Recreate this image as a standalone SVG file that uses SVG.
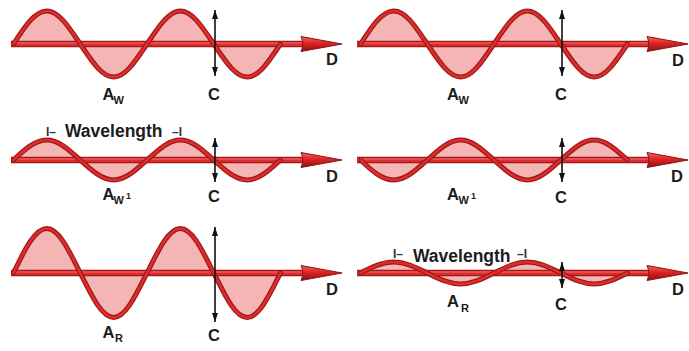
<svg xmlns="http://www.w3.org/2000/svg" width="689" height="351" viewBox="0 0 689 351">
<style>
.fl{fill:#f5b5b5;stroke:none}
.wo{fill:none;stroke:#9e1a1a;stroke-width:5;stroke-linecap:round;stroke-linejoin:round}
.wi{fill:none;stroke:#de2c2c;stroke-width:2.6;stroke-linecap:round;stroke-linejoin:round}
.bo{fill:none;stroke:#9e1a1a;stroke-width:6.5}
.bi{fill:none;stroke:#de2c2c;stroke-width:4}
.bh{fill:none;stroke:#f06a6a;stroke-width:1}
.head{fill:url(#hg);stroke:#8e1212;stroke-width:1;stroke-linejoin:round}
.va{stroke:#111;stroke-width:1.6;fill:none;marker-start:url(#ah);marker-end:url(#ah)}
.lbl{font-family:"Liberation Sans",Arial,sans-serif;font-weight:bold;font-size:16.5px;fill:#1c1c1c}
.sub{font-size:11px}
.sup{font-size:9px}
.wl{font-size:17.5px}
.tick{font-family:"Liberation Sans",Arial,sans-serif;font-weight:bold;font-size:12px;fill:#333}
</style>
<defs>
<linearGradient id="hg" x1="0" y1="0" x2="0" y2="1">
<stop offset="0" stop-color="#f46262"/>
<stop offset="0.45" stop-color="#dc2424"/>
<stop offset="1" stop-color="#8e1010"/>
</linearGradient>
<marker id="ah" viewBox="0 0 9 6" refX="9" refY="3" markerWidth="9" markerHeight="6" markerUnits="userSpaceOnUse" orient="auto-start-reverse">
<path d="M0,0 L9,3 L0,6 Z" fill="#111"/>
</marker>
<g id="ax">
<path class="bo" d="M11,0 H304"/>
<path class="bi" d="M11,0 H304"/>
<path class="bh" d="M12,-1 H303"/>
<path class="head" d="M301,-7.5 L342,0 L301,7.5 Q304.5,0 301,-7.5 Z"/>
</g>
<path id="w1" d="M13.5,44 c10.884,-16.91 21.297,-33 33.375,-33 s22.491,16.91 33.375,33 s21.297,33 33.375,33 s22.491,-16.91 33.375,-33 s21.297,-33 33.375,-33 s22.491,16.910 33.375,33 s21.297,33 33.375,33 s22.491,-16.91 33.375,-33"/>
<path id="w2" d="M13.5,160 c10.884,-10.25 21.297,-20 33.375,-20 s22.491,10.25 33.375,20 s21.297,20 33.375,20 s22.491,-10.25 33.375,-20 s21.297,-20 33.375,-20 s22.491,10.25 33.375,20 s21.297,20 33.375,20 s22.491,-10.25 33.375,-20"/>
<path id="w3" d="M13.5,273 c10.884,-22.8 21.297,-44.5 33.375,-44.5 s22.491,22.8 33.375,44.5 s21.297,44.5 33.375,44.5 s22.491,-22.8 33.375,-44.5 s21.297,-44.5 33.375,-44.5 s22.491,22.8 33.375,44.5 s21.297,44.5 33.375,44.5 s22.491,-22.8 33.375,-44.5"/>
<path id="w5" d="M360.5,160 c10.884,10.25 21.297,20 33.375,20 s22.491,-10.25 33.375,-20 s21.297,-20 33.375,-20 s22.491,10.25 33.375,20 s21.297,20 33.375,20 s22.491,-10.25 33.375,-20 s21.297,-20 33.375,-20 s22.491,10.25 33.375,20"/>
<path id="w6" d="M360.5,273 c10.884,-5.64 21.297,-11 33.375,-11 s22.491,5.64 33.375,11 s21.297,11 33.375,11 s22.491,-5.64 33.375,-11 s21.297,-11 33.375,-11 s22.491,5.64 33.375,11 s21.297,11 33.375,11 s22.491,-5.64 33.375,-11"/>
</defs>
<rect width="689" height="351" fill="#ffffff"/>

<g id="panel-top-left">
<use href="#w1" class="fl"/>
<use href="#ax" x="0" y="44"/>
<use href="#w1" class="wo"/>
<use href="#w1" class="wi"/>
<text class="lbl" x="102.5" y="100">A<tspan class="sub" x="113.5" y="104">W</tspan></text>
<text class="lbl" x="214" y="100" text-anchor="middle">C</text>
<text class="lbl" x="326" y="65">D</text>
</g>

<g id="panel-mid-left">
<use href="#w2" class="fl"/>
<use href="#ax" x="0" y="160"/>
<use href="#w2" class="wo"/>
<use href="#w2" class="wi"/>
<text class="tick" x="46" y="136">I–</text>
<text class="lbl wl" x="65" y="136.5">Wavelength</text>
<text class="tick" x="172" y="136">–I</text>
<text class="lbl" x="102.5" y="200">A<tspan class="sub" x="113.5" y="203.5">W</tspan><tspan class="sup" x="126" y="199">1</tspan></text>
<text class="lbl" x="214" y="202" text-anchor="middle">C</text>
<text class="lbl" x="326" y="182">D</text>
</g>

<g id="panel-bottom-left">
<use href="#w3" class="fl"/>
<use href="#ax" x="0" y="273"/>
<use href="#w3" class="wo"/>
<use href="#w3" class="wi"/>
<text class="lbl" x="102.5" y="338">A<tspan class="sub" x="115" y="341.5">R</tspan></text>
<text class="lbl" x="214" y="341" text-anchor="middle">C</text>
<text class="lbl" x="326" y="295">D</text>
</g>

<g id="panel-top-right">
<use href="#w1" class="fl" x="347" y="0"/>
<use href="#ax" x="346" y="44"/>
<use href="#w1" class="wo" x="347" y="0"/>
<use href="#w1" class="wi" x="347" y="0"/>
<text class="lbl" x="447" y="100">A<tspan class="sub" x="458.5" y="103.5">W</tspan></text>
<text class="lbl" x="561" y="100" text-anchor="middle">C</text>
<text class="lbl" x="672" y="66">D</text>
</g>

<g id="panel-mid-right">
<use href="#w5" class="fl"/>
<use href="#ax" x="346" y="160"/>
<use href="#w5" class="wo"/>
<use href="#w5" class="wi"/>
<text class="lbl" x="447" y="200">A<tspan class="sub" x="458.5" y="203.5">W</tspan><tspan class="sup" x="471" y="199">1</tspan></text>
<text class="lbl" x="561" y="203" text-anchor="middle">C</text>
<text class="lbl" x="671" y="182">D</text>
</g>

<g id="panel-bottom-right">
<use href="#w6" class="fl"/>
<use href="#ax" x="346" y="273"/>
<use href="#w6" class="wo"/>
<use href="#w6" class="wi"/>
<text class="tick" x="393" y="258">I–</text>
<text class="lbl wl" x="413" y="262">Wavelength</text>
<text class="tick" x="517" y="258">–I</text>
<text class="lbl" x="447" y="307">A<tspan class="sub" x="461" y="311.5">R</tspan></text>
<text class="lbl" x="561" y="310" text-anchor="middle">C</text>
<text class="lbl" x="672" y="295">D</text>
</g>

<g id="connectors">
<line class="va" x1="215" y1="10" x2="215" y2="76"/>
<line class="va" x1="215" y1="138" x2="215" y2="182"/>
<line class="va" x1="215" y1="227" x2="215" y2="322"/>
<line class="va" x1="562" y1="10" x2="562" y2="76"/>
<line class="va" x1="562" y1="138" x2="562" y2="182"/>
<line class="va" x1="562" y1="262" x2="562" y2="288"/>
</g>
</svg>
